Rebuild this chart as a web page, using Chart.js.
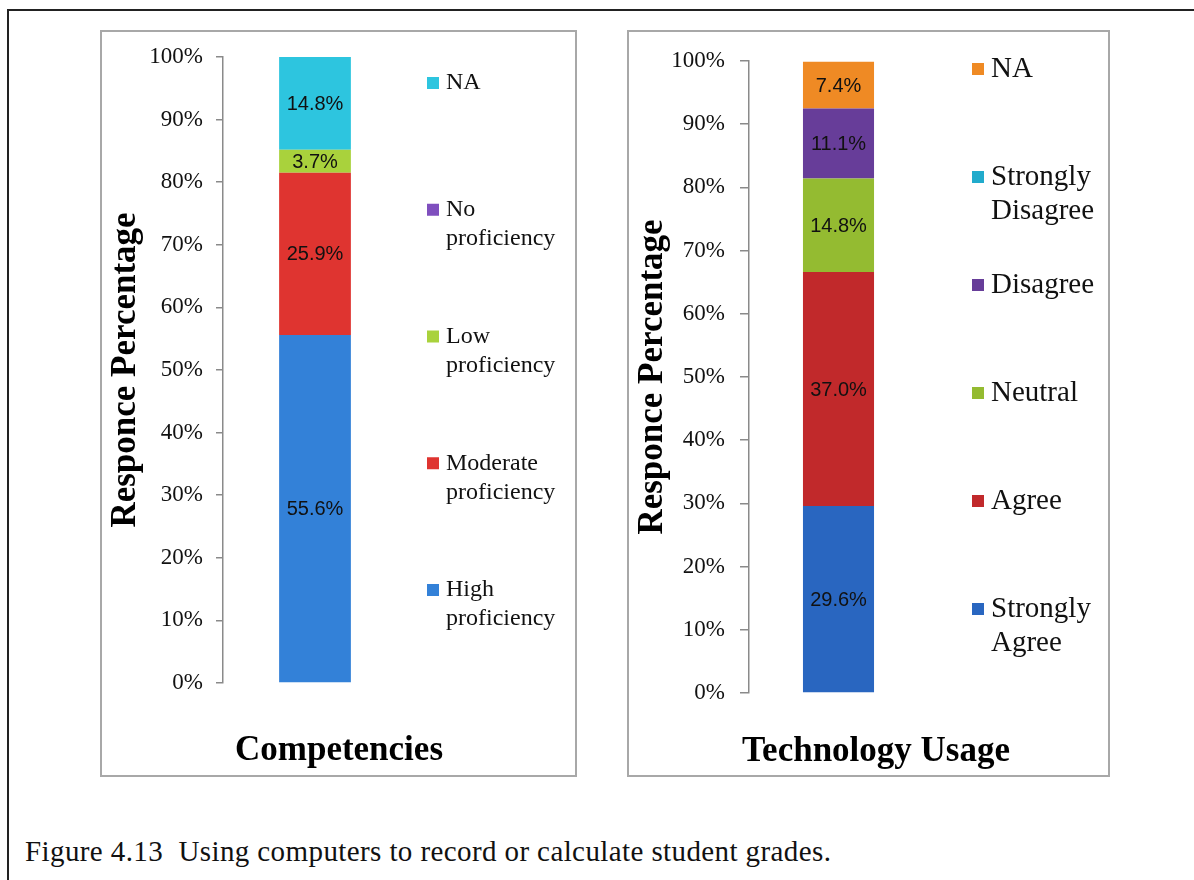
<!DOCTYPE html>
<html>
<head>
<meta charset="utf-8">
<script src="https://cdn.jsdelivr.net/npm/chart.js@4.4.1/dist/chart.umd.min.js"></script>
<style>
  html, body { margin:0; padding:0; background:#fff; }
  body { width:1194px; height:880px; position:relative; overflow:hidden; }
  .frame { position:absolute; left:7px; top:9px; width:1300px; height:1000px; border-top:2px solid #222; border-left:2px solid #222; }
  .panel { position:absolute; box-sizing:border-box; border:2px solid #a8a8a8; }
  .panel canvas { position:absolute; left:-2px; top:-2px; }
  .caption { position:absolute; left:25px; top:837px; line-height:1; font-family:"Liberation Serif","Times New Roman",serif; font-size:29px; letter-spacing:0.4px; color:#111; white-space:pre; }
</style>
</head>
<body>
<div class="frame"></div>
<div class="panel" style="left:100px;top:30px;width:477px;height:747px;"><canvas id="comp-chart" width="477" height="747"></canvas></div>
<div class="panel" style="left:627px;top:30px;width:483px;height:747px;"><canvas id="tech-chart" width="483" height="747"></canvas></div>
<div class="caption">Figure 4.13  Using computers to record or calculate student grades.</div>

<script>
// data
const compLabels = ['High proficiency', 'Moderate proficiency', 'Low proficiency', 'No proficiency', 'NA'];
const compValues = [55.6, 25.9, 3.7, 0, 14.8];
const compColors = ['#3381d8', '#df3430', '#a9d23c', '#7f4fbe', '#2dc5df'];

const techLabels = ['Strongly Agree', 'Agree', 'Neutral', 'Disagree', 'Strongly Disagree', 'NA'];
const techValues = [29.6, 37.0, 14.8, 11.1, 0, 7.4];
const techColors = ['#2966c0', '#c1292b', '#94bb31', '#673d99', '#21abcc', '#ef8a24'];

const yMin = 0, yMax = 100, yStep = 10;

const SERIF = '"Liberation Serif","Times New Roman",serif';
const SANS  = '"Liberation Sans",Arial,sans-serif';
const AXIS  = '#8a8a8a';

// value labels in the middle of each segment
const valueLabels = {
  id: 'valueLabels',
  afterDatasetsDraw(chart) {
    const ctx = chart.ctx;
    ctx.save();
    ctx.font = '20px ' + SANS;
    ctx.fillStyle = '#111';
    ctx.textAlign = 'center';
    ctx.textBaseline = 'middle';
    chart.data.datasets.forEach((ds, i) => {
      const v = ds.data[0];
      if (!v) return;
      const bar = chart.getDatasetMeta(i).data[0];
      const p = bar.getProps(['x', 'y', 'base'], true);
      ctx.fillText(v.toFixed(1) + '%', p.x, (p.y + p.base) / 2 + 1);
    });
    ctx.restore();
  }
};

// legend on the right, top entry = last dataset, labels wrapped per word
const sideLegend = {
  id: 'sideLegend',
  afterDraw(chart, args, o) {
    const ctx = chart.ctx;
    const sets = chart.data.datasets;
    ctx.save();
    ctx.font = o.size + 'px ' + SERIF;
    ctx.textBaseline = 'middle';
    for (let k = 0; k < sets.length; k++) {
      const ds = sets[sets.length - 1 - k];
      const y = o.firstY + k * o.step;
      ctx.fillStyle = ds.backgroundColor;
      ctx.fillRect(o.boxX, y - o.box / 2, o.box, o.box);
      ctx.fillStyle = '#111';
      ds.label.split(' ').forEach((w, j) => ctx.fillText(w, o.textX, y + j * o.lineH));
    }
    ctx.restore();
  }
};

// category title under the plot, centred on the panel (not squeezed to the plot width)
const bottomTitle = {
  id: 'bottomTitle',
  afterDraw(chart, args, o) {
    const ctx = chart.ctx;
    ctx.save();
    ctx.font = 'bold ' + o.size + 'px ' + SERIF;
    ctx.fillStyle = '#000';
    ctx.textAlign = 'center';
    ctx.textBaseline = 'middle';
    ctx.fillText(o.text, o.x, o.y);
    ctx.restore();
  }
};

function makeChart(id, labels, values, colors, xTitle, lay) {
  const datasets = labels.map((l, i) => ({
    label: l, data: [values[i]], backgroundColor: colors[i],
    borderWidth: 0, categoryPercentage: 1, barPercentage: lay.barPct
  }));
  return new Chart(document.getElementById(id), {
    type: 'bar',
    data: { labels: [''], datasets },
    plugins: [valueLabels, sideLegend, bottomTitle],
    options: {
      responsive: false, animation: false,
      layout: { padding: { top: lay.top, right: lay.right, left: 0, bottom: 0 } },
      plugins: {
        legend: { display: false }, tooltip: { enabled: false },
        sideLegend: lay.legend,
        bottomTitle: Object.assign({ text: xTitle }, lay.xTitle)
      },
      scales: {
        x: {
          stacked: true,
          grid: { display: false }, border: { display: false },
          ticks: { display: false },
          afterFit(s) { s.height = lay.xH; }
        },
        y: {
          stacked: true, min: yMin, max: yMax,
          ticks: { stepSize: yStep, padding: lay.tickPad, color: '#111',
                   font: { family: SERIF, size: 23 },
                   callback: v => v + '%' },
          grid: { drawOnChartArea: false, color: AXIS, tickLength: lay.tickLen, lineWidth: 1.5 },
          border: { color: AXIS, width: 1.5 },
          title: { display: true, text: 'Responce Percentage', color: '#000',
                   font: { family: SERIF, size: 35, weight: 'bold' },
                   padding: { top: 5, bottom: 0 } },
          afterFit(s) { s.width = lay.yW; }
        }
      }
    }
  });
}

makeChart('comp-chart', compLabels, compValues, compColors, 'Competencies', {
  barPct: 0.39, top: 27, right: 170, yW: 123, xH: 94, tickLen: 7, tickPad: 13,
  xTitle: { x: 239, y: 721, size: 35 },
  legend: { boxX: 327, textX: 346, box: 12, firstY: 53, step: 126.75, lineH: 29, size: 24 }
});

makeChart('tech-chart', techLabels, techValues, techColors, 'Technology Usage', {
  barPct: 0.397, top: 31, right: 182, yW: 122, xH: 84, tickLen: 9, tickPad: 15,
  xTitle: { x: 249, y: 722, size: 35 },
  legend: { boxX: 345, textX: 364, box: 12, firstY: 39, step: 108, lineH: 34, size: 29 }
});
</script>
</body>
</html>
